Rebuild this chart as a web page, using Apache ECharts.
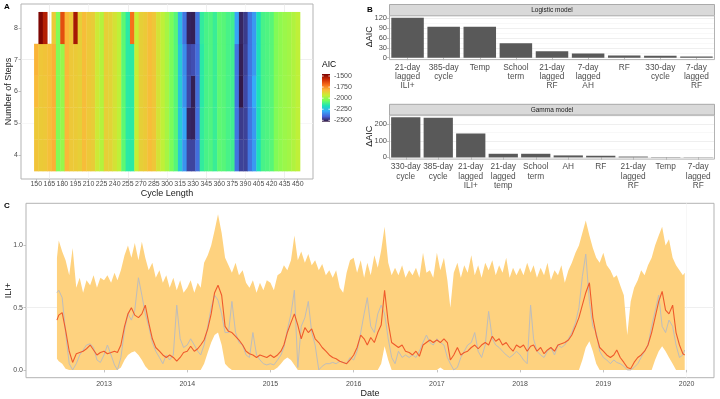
<!DOCTYPE html>
<html>
<head>
<meta charset="utf-8">
<script src="https://cdn.jsdelivr.net/npm/echarts@6/dist/echarts.min.js"></script>
<style>
html, body { margin: 0; padding: 0; background: #fff; }
#main { width: 720px; height: 399px; }
</style>
</head>
<body>
<div id="main"></div>
<script>
// ---- panel A: AIC by cycle length and number of steps
var cycleLengths = [150,155,160,165,170,175,180,185,190,195,200,205,210,215,220,225,230,235,240,245,
    250,255,260,265,270,275,280,285,290,295,300,305,310,315,320,325,330,335,340,345,
    350,355,360,365,370,375,380,385,390,395,400,405,410,415,420,425,430,435,440,445,450];
var stepLevels = [4, 5, 6, 7, 8];
var aic4 = [-1835,-1850,-1845,-1825,-1800,-2030,-2000,-1810,-1845,-1850,-1860,-1820,-1845,-1855,-1920,-1960,-1860,-1870,-1905,-1945,
    -2080,-2150,-2150,-1935,-1860,-1850,-1820,-1840,-1905,-1945,-1980,-2040,-2090,-2230,-2330,-2455,-2455,-2390,-2140,-2110,
    -2100,-2130,-2080,-2090,-2110,-2120,-2380,-2460,-2460,-2380,-2320,-2180,-2110,-2100,-2090,-2030,-2010,-1995,-1985,-1965,-1945];
var aic5 = [-1845,-1850,-1845,-1825,-1805,-2030,-2000,-1810,-1845,-1850,-1860,-1820,-1845,-1855,-1920,-1960,-1860,-1870,-1905,-1945,
    -2080,-2150,-2150,-1935,-1860,-1850,-1820,-1840,-1905,-1945,-1980,-2040,-2090,-2230,-2300,-2500,-2505,-2390,-2140,-2110,
    -2100,-2130,-2080,-2090,-2110,-2120,-2380,-2470,-2460,-2380,-2320,-2180,-2110,-2100,-2090,-2030,-2010,-1995,-1985,-1965,-1945];
var aic6 = [-1815,-1845,-1840,-1825,-1800,-2030,-2000,-1810,-1845,-1850,-1860,-1820,-1845,-1855,-1920,-1960,-1860,-1870,-1905,-1945,
    -2080,-2150,-2150,-1935,-1860,-1850,-1820,-1840,-1905,-1945,-1980,-2040,-2090,-2230,-2330,-2450,-2510,-2390,-2150,-2110,
    -2100,-2130,-2080,-2090,-2110,-2120,-2380,-2520,-2450,-2380,-2290,-2180,-2110,-2100,-2090,-2030,-2010,-1995,-1985,-1965,-1945];
var aic7 = [-1805,-1840,-1835,-1825,-1800,-2030,-2000,-1810,-1845,-1850,-1860,-1820,-1845,-1855,-1920,-1960,-1860,-1870,-1905,-1945,
    -2080,-2150,-2150,-1935,-1860,-1850,-1820,-1840,-1905,-1945,-1980,-2040,-2090,-2230,-2340,-2450,-2440,-2390,-2150,-2110,
    -2100,-2130,-2080,-2090,-2110,-2120,-2380,-2510,-2460,-2380,-2320,-2180,-2110,-2100,-2090,-2030,-2010,-1995,-1985,-1965,-1945];
var aic8 = [null,-1460,-1540,null,-1850,-2030,-1640,-1810,-1845,-1520,-1860,-1820,-1845,-1855,-1920,-1960,-1860,-1870,-1905,-1945,
    -2080,-2150,-1700,-1935,-1860,-1850,-1820,-1840,-1905,-1945,-1980,-2040,-2090,-2260,-2380,-2505,-2510,-2380,-2140,-2110,
    -2100,-2130,-2080,-2090,-2110,-2120,-2300,-2500,-2470,-2380,-2320,-2180,-2110,-2100,-2090,-2030,-2010,-1995,-1985,-1965,-1945];
var aicMin = -2531, aicMax = -1455;
var aicTicks = [-1500, -1750, -2000, -2250, -2500];

// ---- panel B: delta AIC when a term is dropped
var logisticTerms = ['21-day\nlagged\nILI+', '385-day\ncycle', 'Temp', 'School\nterm', '21-day\nlagged\nRF',
    '7-day\nlagged\nAH', 'RF', '330-day\ncycle', '7-day\nlagged\nRF'];
var logisticDelta = [122, 94, 94, 44, 20, 13, 7, 6, 4];
var gammaTerms = ['330-day\ncycle', '385-day\ncycle', '21-day\nlagged\nILI+', '21-day\nlagged\ntemp', 'School\nterm',
    'AH', 'RF', '21-day\nlagged\nRF', 'Temp', '7-day\nlagged\nRF'];
var gammaDelta = [244, 240, 145, 22, 22, 12, 10, 5, 2, 1.5];

// ---- panel C: observed vs fitted ILI+
var dates = [
 '2012-06-08','2012-06-16','2012-07-01','2012-07-16','2012-08-01','2012-08-16','2012-09-01','2012-09-16','2012-10-01','2012-10-16','2012-11-01','2012-11-16','2012-12-01','2012-12-16',
 '2013-01-01','2013-01-16','2013-02-01','2013-02-16','2013-03-01','2013-03-16','2013-04-01','2013-04-16','2013-05-01','2013-05-16','2013-06-01','2013-06-16','2013-07-01','2013-07-16','2013-08-01','2013-08-16','2013-09-01','2013-09-16','2013-10-01','2013-10-16','2013-11-01','2013-11-16','2013-12-01','2013-12-16',
 '2014-01-01','2014-01-16','2014-02-01','2014-02-16','2014-03-01','2014-03-16','2014-04-01','2014-04-16','2014-05-01','2014-05-16','2014-06-01','2014-06-16','2014-07-01','2014-07-16','2014-08-01','2014-08-16','2014-09-01','2014-09-16','2014-10-01','2014-10-16','2014-11-01','2014-11-16','2014-12-01','2014-12-16',
 '2015-01-01','2015-01-16','2015-02-01','2015-02-16','2015-03-01','2015-03-16','2015-04-01','2015-04-16','2015-05-01','2015-05-16','2015-06-01','2015-06-16','2015-07-01','2015-07-16','2015-08-01','2015-08-16','2015-09-01','2015-09-16','2015-10-01','2015-10-16','2015-11-01','2015-11-16','2015-12-01','2015-12-16',
 '2016-01-01','2016-01-16','2016-02-01','2016-02-16','2016-03-01','2016-03-16','2016-04-01','2016-04-16','2016-05-01','2016-05-16','2016-06-01','2016-06-16','2016-07-01','2016-07-16','2016-08-01','2016-08-16','2016-09-01','2016-09-16','2016-10-01','2016-10-16','2016-11-01','2016-11-16','2016-12-01','2016-12-16',
 '2017-01-01','2017-01-16','2017-02-01','2017-02-16','2017-03-01','2017-03-16','2017-04-01','2017-04-16','2017-05-01','2017-05-16','2017-06-01','2017-06-16','2017-07-01','2017-07-16','2017-08-01','2017-08-16','2017-09-01','2017-09-16','2017-10-01','2017-10-16','2017-11-01','2017-11-16','2017-12-01','2017-12-16',
 '2018-01-01','2018-01-16','2018-02-01','2018-02-16','2018-03-01','2018-03-16','2018-04-01','2018-04-16','2018-05-01','2018-05-16','2018-06-01','2018-06-16','2018-07-01','2018-07-16','2018-08-01','2018-08-16','2018-09-01','2018-09-16','2018-10-01','2018-10-16','2018-11-01','2018-11-16','2018-12-01','2018-12-16',
 '2019-01-01','2019-01-16','2019-02-01','2019-02-16','2019-03-01','2019-03-16','2019-04-01','2019-04-16','2019-05-01','2019-05-16','2019-06-01','2019-06-16','2019-07-01','2019-07-16','2019-08-01','2019-08-16','2019-09-01','2019-09-16','2019-10-01','2019-10-16','2019-11-01','2019-11-16','2019-12-01','2019-12-16','2019-12-24'
];
var observed = [
 0.62,0.64,0.58,0.30,0.05,0.00,0.05,0.12,0.16,0.20,0.21,0.18,0.08,0.06,
 0.12,0.20,0.12,0.04,0.00,0.10,0.32,0.45,0.40,0.48,0.74,0.60,0.45,0.35,0.22,0.15,0.10,0.05,0.12,0.08,0.12,0.52,0.25,0.18,
 0.20,0.25,0.20,0.15,0.12,0.20,0.35,0.50,0.60,0.56,0.45,0.30,0.30,0.55,0.30,0.22,0.20,0.12,0.10,0.30,0.12,0.08,0.05,0.04,
 0.05,0.04,0.08,0.12,0.18,0.32,0.45,0.64,0.02,0.35,0.42,0.55,0.30,0.20,0.00,0.03,0.05,0.05,0.06,0.05,0.07,0.06,0.05,0.10,
 0.08,0.15,0.30,0.45,0.58,0.35,0.30,0.45,0.52,0.45,0.25,0.10,0.05,0.15,0.10,0.12,0.10,0.12,0.10,0.15,0.22,0.28,0.22,0.20,
 0.25,0.22,0.20,0.10,0.05,0.00,0.02,0.10,0.15,0.20,0.22,0.30,0.15,0.10,0.20,0.47,0.25,0.20,0.18,0.15,0.12,0.10,0.12,0.15,
 0.12,0.08,0.05,0.52,0.25,0.15,0.12,0.10,0.15,0.18,0.12,0.20,0.18,0.20,0.25,0.30,0.38,0.50,0.75,0.93,0.55,0.35,0.30,0.15,
 0.10,0.08,0.05,0.08,0.06,0.05,0.03,0.00,0.00,0.02,0.05,0.10,0.15,0.20,0.35,0.47,0.60,0.35,0.30,0.40,0.35,0.20,0.10,0.12,0.16
];
var fitted = [
 0.40,0.44,0.46,0.32,0.15,0.06,0.13,0.14,0.15,0.17,0.20,0.16,0.12,0.14,
 0.15,0.13,0.14,0.15,0.14,0.20,0.35,0.45,0.50,0.44,0.42,0.45,0.52,0.38,0.25,0.18,0.15,0.12,0.10,0.12,0.10,0.07,0.10,0.14,
 0.15,0.19,0.15,0.17,0.20,0.24,0.33,0.45,0.62,0.68,0.60,0.35,0.31,0.30,0.27,0.24,0.20,0.15,0.13,0.12,0.10,0.12,0.11,0.10,
 0.12,0.10,0.12,0.15,0.20,0.30,0.38,0.45,0.36,0.25,0.34,0.30,0.33,0.25,0.22,0.18,0.15,0.12,0.10,0.09,0.07,0.06,0.05,0.08,
 0.12,0.18,0.28,0.25,0.20,0.26,0.22,0.30,0.36,0.64,0.38,0.22,0.20,0.18,0.20,0.15,0.14,0.12,0.15,0.11,0.20,0.22,0.24,0.22,
 0.24,0.22,0.25,0.22,0.08,0.12,0.18,0.12,0.14,0.15,0.18,0.20,0.17,0.20,0.22,0.20,0.27,0.23,0.25,0.20,0.22,0.18,0.15,0.20,
 0.18,0.20,0.15,0.19,0.20,0.15,0.18,0.13,0.16,0.18,0.15,0.20,0.21,0.22,0.24,0.28,0.35,0.42,0.52,0.62,0.70,0.42,0.28,0.18,
 0.15,0.12,0.10,0.12,0.16,0.10,0.06,0.02,0.01,0.06,0.10,0.12,0.15,0.20,0.30,0.42,0.55,0.63,0.48,0.45,0.52,0.30,0.20,0.13,0.12
];
var lower = [
 0.09,0.07,0.05,0.01,0,0,0,0,0,0,0,0,0,0,
 0,0,0,0,0,0.02,0.08,0.12,0.14,0.15,0.12,0.08,0.03,0,0,0,0,0,0,0,0,0,0,0,
 0,0,0,0,0,0.05,0.14,0.22,0.28,0.30,0.20,0.05,0.02,0,0,0,0,0,0,0,0,0,0,0,
 0,0,0.02,0.05,0.08,0.10,0.08,0.04,0,0,0,0,0,0,0,0,0,0,0,0,0,0,0,0,
 0,0,0,0,0,0,0,0,0.05,0.19,0.08,0,0,0,0,0,0,0,0,0,0,0,0,0,
 0,0.02,0,0,0,0,0,0,0,0,0,0,0,0,0,0,0,0,0,0,0,0,0,0,
 0,0,0,0,0,0,0,0,0,0,0,0,0,0,0,0,0,0,0.08,0.18,0.23,0.15,0.05,0,
 0,0,0,0,0,0,0,0,0,0,0,0,0,0,0,0.08,0.15,0.19,0.15,0.10,0.05,0,0,0,0
];
var upper = [
 0.90,1.04,0.95,0.88,0.76,0.98,0.66,0.74,0.62,0.72,0.68,0.76,0.66,0.74,
 0.72,0.76,0.70,0.78,0.72,0.80,0.92,1.00,0.90,1.02,0.88,1.03,0.90,0.80,0.86,0.74,0.80,0.70,0.76,0.66,0.74,0.64,0.72,0.62,
 0.66,0.72,0.62,0.70,0.66,0.86,0.92,1.00,1.12,1.25,1.10,0.90,0.84,0.78,0.86,0.76,0.80,0.70,0.66,0.72,0.62,0.70,0.64,0.72,
 0.70,0.64,0.76,0.78,0.84,0.80,0.88,1.08,0.88,0.95,0.86,0.93,0.84,0.88,0.80,0.85,0.76,0.80,0.74,0.80,0.66,0.62,0.78,0.88,
 0.90,0.78,0.88,0.74,0.86,0.76,0.92,0.82,0.96,1.15,0.86,0.76,0.82,0.76,0.84,0.74,0.80,0.76,0.82,0.74,0.94,0.78,0.80,0.74,
 0.94,0.80,0.90,0.72,0.50,0.78,0.86,0.74,0.84,0.78,0.92,0.76,0.84,0.74,0.86,0.80,0.88,0.76,0.84,0.78,0.90,0.74,0.82,0.76,
 0.82,0.76,0.86,0.78,0.84,0.74,0.82,0.76,0.86,0.72,0.80,0.76,0.84,0.70,0.80,0.86,0.94,1.00,1.10,1.20,1.08,0.98,0.90,0.86,
 0.94,0.84,0.80,0.74,0.76,0.68,0.60,0.28,0.55,0.66,0.72,0.80,0.76,0.84,0.90,1.00,1.08,1.15,1.00,1.05,0.90,0.84,0.80,0.76,0.78
];
var yearTicks = [2013, 2014, 2015, 2016, 2017, 2018, 2019, 2020];
var iliTicks = [0, 0.5, 1.0];

var turbo = ['#30123b','#4662d7','#36aaf9','#1ae4b6','#72fe5e','#c7ef34','#faba39','#f66b19','#cb2a04','#7a0403'];
var FONT = '"Liberation Sans", Arial, sans-serif';
var T = 'rgba(0,0,0,0)', MAJ = '#e8e8e8', MIN = '#f3f3f3';
var BORDER = '#b3b3b3', LAB = '#4d4d4d';

function toYear(s) {
    var y = +s.slice(0, 4);
    var d = Date.UTC(y, +s.slice(5, 7) - 1, +s.slice(8, 10));
    var a = Date.UTC(y, 0, 1), b = Date.UTC(y + 1, 0, 1);
    return y + (d - a) / (b - a);
}

var heatData = [];
[aic4, aic5, aic6, aic7, aic8].forEach(function (row, r) {
    row.forEach(function (v, c) {
        if (v !== null) heatData.push([cycleLengths[c], stepLevels[r], v]);
    });
});
var cycleTicks = cycleLengths.filter(function (c) { return (c - 150) % 15 === 0; });

var xs = dates.map(toYear);
function pairs(vals) { return vals.map(function (v, i) { return [xs[i], v]; }); }

// colour bar geometry
var cbX = 322, cbY = 74, cbW = 8, cbH = 47.7;
function cbPos(v) { return cbY + (aicMax - v) / (aicMax - aicMin) * cbH; }

var graphics = [
    { type: 'text', left: 4, top: 3, style: { text: 'A', font: 'bold 8px ' + FONT, fill: '#000' } },
    { type: 'text', left: 367, top: 6, style: { text: 'B', font: 'bold 8px ' + FONT, fill: '#000' } },
    { type: 'text', left: 4, top: 202, style: { text: 'C', font: 'bold 8px ' + FONT, fill: '#000' } },
    // strips and frames of panel B
    { type: 'rect', shape: { x: 389.5, y: 4.5, width: 325, height: 11.2 }, style: { fill: '#d9d9d9', stroke: '#999', lineWidth: 0.8 } },
    { type: 'text', x: 552, y: 10.3, style: { text: 'Logistic model', font: '6.5px ' + FONT, fill: '#1a1a1a', textAlign: 'center', textVerticalAlign: 'middle' } },
    { type: 'rect', shape: { x: 389.5, y: 15.7, width: 325, height: 43.9 }, style: { fill: 'none', stroke: BORDER, lineWidth: 1 }, z: 10 },
    { type: 'rect', shape: { x: 389.5, y: 104.3, width: 325, height: 10.9 }, style: { fill: '#d9d9d9', stroke: '#999', lineWidth: 0.8 } },
    { type: 'text', x: 552, y: 109.8, style: { text: 'Gamma model', font: '6.5px ' + FONT, fill: '#1a1a1a', textAlign: 'center', textVerticalAlign: 'middle' } },
    { type: 'rect', shape: { x: 389.5, y: 115.2, width: 325, height: 43.9 }, style: { fill: 'none', stroke: BORDER, lineWidth: 1 }, z: 10 },
    // colour bar
    { type: 'text', x: cbX, y: 65, style: { text: 'AIC', font: '8.5px ' + FONT, fill: '#000', textVerticalAlign: 'middle' } },
    { type: 'rect', shape: { x: cbX, y: cbY, width: cbW, height: cbH },
      style: { fill: new echarts.graphic.LinearGradient(0, 0, 0, 1, turbo.slice().reverse().map(function (c, i) {
          return { offset: i / (turbo.length - 1), color: c };
      })) } }
];
aicTicks.forEach(function (v) {
    var y = cbPos(v);
    graphics.push({ type: 'text', x: cbX + cbW + 4, y: y, style: { text: String(v), font: '7px ' + FONT, fill: LAB, textVerticalAlign: 'middle' } });
    graphics.push({ type: 'line', shape: { x1: cbX, y1: y, x2: cbX + 1.6, y2: y }, style: { stroke: '#fff', lineWidth: 0.8 } });
    graphics.push({ type: 'line', shape: { x1: cbX + cbW - 1.6, y1: y, x2: cbX + cbW, y2: y }, style: { stroke: '#fff', lineWidth: 0.8 } });
});

var tickStyle = { show: true, length: 2.5, lineStyle: { color: BORDER, width: 0.8 } };
var labStyle = { fontSize: 7, color: LAB, fontFamily: FONT };
var barLab = { fontSize: 8.3, color: LAB, fontFamily: FONT, lineHeight: 9.3, margin: 3, interval: 0 };
var nameStyle = { fontSize: 9, color: '#1a1a1a', fontFamily: FONT };

var myChart = echarts.init(document.getElementById('main'), null, { renderer: 'canvas' });
var option = {
    animation: false,
    textStyle: { fontFamily: FONT },
    graphic: graphics,
    visualMap: {
        show: false,
        type: 'continuous',
        seriesIndex: 0,
        dimension: 2,
        min: aicMin,
        max: aicMax,
        inRange: { color: turbo }
    },
    grid: [
        { left: 21, top: 4, width: 292, height: 175, show: true, borderColor: BORDER, borderWidth: 1, backgroundColor: 'transparent', outerBoundsMode: 'none' },
        { left: 389.5, top: 15.7, width: 325, height: 42, outerBoundsMode: 'none' },
        { left: 389.5, top: 115.2, width: 325, height: 42.2, outerBoundsMode: 'none' },
        { left: 26, top: 203.3, width: 688, height: 174.4, show: true, borderColor: BORDER, borderWidth: 1, backgroundColor: 'transparent', outerBoundsMode: 'none' }
    ],
    xAxis: [
        {
            gridIndex: 0, type: 'value', min: 132.5, max: 467.5, interval: 2.5,
            axisLine: { show: false },
            axisTick: Object.assign({ customValues: cycleTicks }, tickStyle),
            axisLabel: Object.assign({ customValues: cycleTicks, margin: 2 }, labStyle),
            splitLine: { show: true, lineStyle: { color: [T, MAJ, T, T, MIN, T], width: 0.7 } },
            name: 'Cycle Length', nameLocation: 'middle', nameGap: 10, nameMoveOverlap: false, nameTextStyle: nameStyle
        },
        {
            gridIndex: 1, type: 'category', data: logisticTerms, offset: 1.9,
            axisLine: { show: false },
            axisTick: Object.assign({ alignWithLabel: true }, tickStyle),
            axisLabel: barLab,
            splitLine: { show: false }
        },
        {
            gridIndex: 2, type: 'category', data: gammaTerms, offset: 1.9,
            axisLine: { show: false },
            axisTick: Object.assign({ alignWithLabel: true }, tickStyle),
            axisLabel: barLab,
            splitLine: { show: false }
        },
        {
            gridIndex: 3, type: 'value', min: 2012.0625, max: 2020.33, interval: 0.0625,
            axisLine: { show: false },
            axisTick: Object.assign({ customValues: yearTicks }, tickStyle),
            axisLabel: Object.assign({ customValues: yearTicks, margin: 3, formatter: function (v) { return String(v); } }, labStyle),
            splitLine: { show: true, lineStyle: { color: [T, T, T, T, T, T, T, MIN, T, T, T, T, T, T, T, MAJ], width: 0.7 } },
            name: 'Date', nameLocation: 'middle', nameGap: 11, nameMoveOverlap: false, nameTextStyle: nameStyle
        }
    ],
    yAxis: [
        {
            gridIndex: 0, type: 'value', min: 3.25, max: 8.75, interval: 0.25,
            axisLine: { show: false },
            axisTick: Object.assign({ customValues: stepLevels }, tickStyle),
            axisLabel: Object.assign({ customValues: stepLevels, margin: 3 }, labStyle),
            splitLine: { show: true, lineStyle: { color: [T, MIN, T, MAJ], width: 0.7 } },
            name: 'Number of Steps', nameLocation: 'middle', nameGap: 8, nameMoveOverlap: false, nameTextStyle: nameStyle
        },
        {
            gridIndex: 1, type: 'value', min: 0, max: 128, interval: 30,
            axisLine: { show: false },
            axisTick: tickStyle,
            axisLabel: Object.assign({ margin: 2.5, showMaxLabel: false }, labStyle, { fontSize: 7.5 }),
            splitLine: { show: true, lineStyle: { color: MAJ, width: 0.7 } },
            minorTick: { show: false, splitNumber: 2 },
            minorSplitLine: { show: true, lineStyle: { color: MIN, width: 0.6 } },
            name: 'ΔAIC', nameLocation: 'middle', nameGap: 15.5, nameMoveOverlap: false, nameTextStyle: nameStyle
        },
        {
            gridIndex: 2, type: 'value', min: 0, max: 256, interval: 100,
            axisLine: { show: false },
            axisTick: tickStyle,
            axisLabel: Object.assign({ margin: 2.5, showMaxLabel: false }, labStyle, { fontSize: 7.5 }),
            splitLine: { show: true, lineStyle: { color: MAJ, width: 0.7 } },
            minorTick: { show: false, splitNumber: 2 },
            minorSplitLine: { show: true, lineStyle: { color: MIN, width: 0.6 } },
            name: 'ΔAIC', nameLocation: 'middle', nameGap: 15.5, nameMoveOverlap: false, nameTextStyle: nameStyle
        },
        {
            gridIndex: 3, type: 'value', min: -0.0625, max: 1.338, interval: 0.0625,
            axisLine: { show: false },
            axisTick: Object.assign({ customValues: iliTicks }, tickStyle),
            axisLabel: Object.assign({ customValues: iliTicks, margin: 3, formatter: function (v) { return v.toFixed(1); } }, labStyle),
            splitLine: { show: true, lineStyle: { color: [T, MAJ, T, T, T, MIN, T, T], width: 0.7 } },
            name: 'ILI+', nameLocation: 'middle', nameGap: 13, nameMoveOverlap: false, nameTextStyle: nameStyle
        }
    ],
    series: [
        {
            type: 'custom',
            xAxisIndex: 0, yAxisIndex: 0,
            encode: { x: 0, y: 1 },
            data: heatData,
            renderItem: function (params, api) {
                var p = api.coord([api.value(0) - 2.5, api.value(1) + 0.5]);
                var s = api.size([5, 1]);
                return {
                    type: 'rect',
                    shape: { x: p[0], y: p[1], width: s[0] + 0.4, height: s[1] + 0.3 },
                    style: { fill: api.visual('color') }
                };
            },
            z: 3
        },
        {
            type: 'bar', xAxisIndex: 1, yAxisIndex: 1, data: logisticDelta,
            barCategoryGap: '10%', itemStyle: { color: '#595959' }
        },
        {
            type: 'bar', xAxisIndex: 2, yAxisIndex: 2, data: gammaDelta,
            barCategoryGap: '10%', itemStyle: { color: '#595959' }
        },
        {
            // uncertainty ribbon between lower and upper
            type: 'custom', xAxisIndex: 3, yAxisIndex: 3,
            encode: { x: 0, y: 1 },
            data: pairs(upper),
            clip: true,
            silent: true,
            renderItem: function (params, api) {
                if (params.dataIndex !== 0) return null;
                var pts = [], i;
                for (i = 0; i < xs.length; i++) pts.push(api.coord([xs[i], upper[i]]));
                for (i = xs.length - 1; i >= 0; i--) pts.push(api.coord([xs[i], lower[i]]));
                return { type: 'polygon', shape: { points: pts }, style: { fill: '#fed27f' } };
            }
        },
        {
            type: 'line', xAxisIndex: 3, yAxisIndex: 3, data: pairs(observed),
            symbol: 'none', lineStyle: { color: '#bdbdbd', width: 1 }
        },
        {
            type: 'line', xAxisIndex: 3, yAxisIndex: 3, data: pairs(fitted),
            symbol: 'none', lineStyle: { color: '#ef5a2c', width: 1.1 }
        }
    ]
};
if (option && typeof option === "object") {
    myChart.setOption(option, true);
}
</script>
</body>
</html>
